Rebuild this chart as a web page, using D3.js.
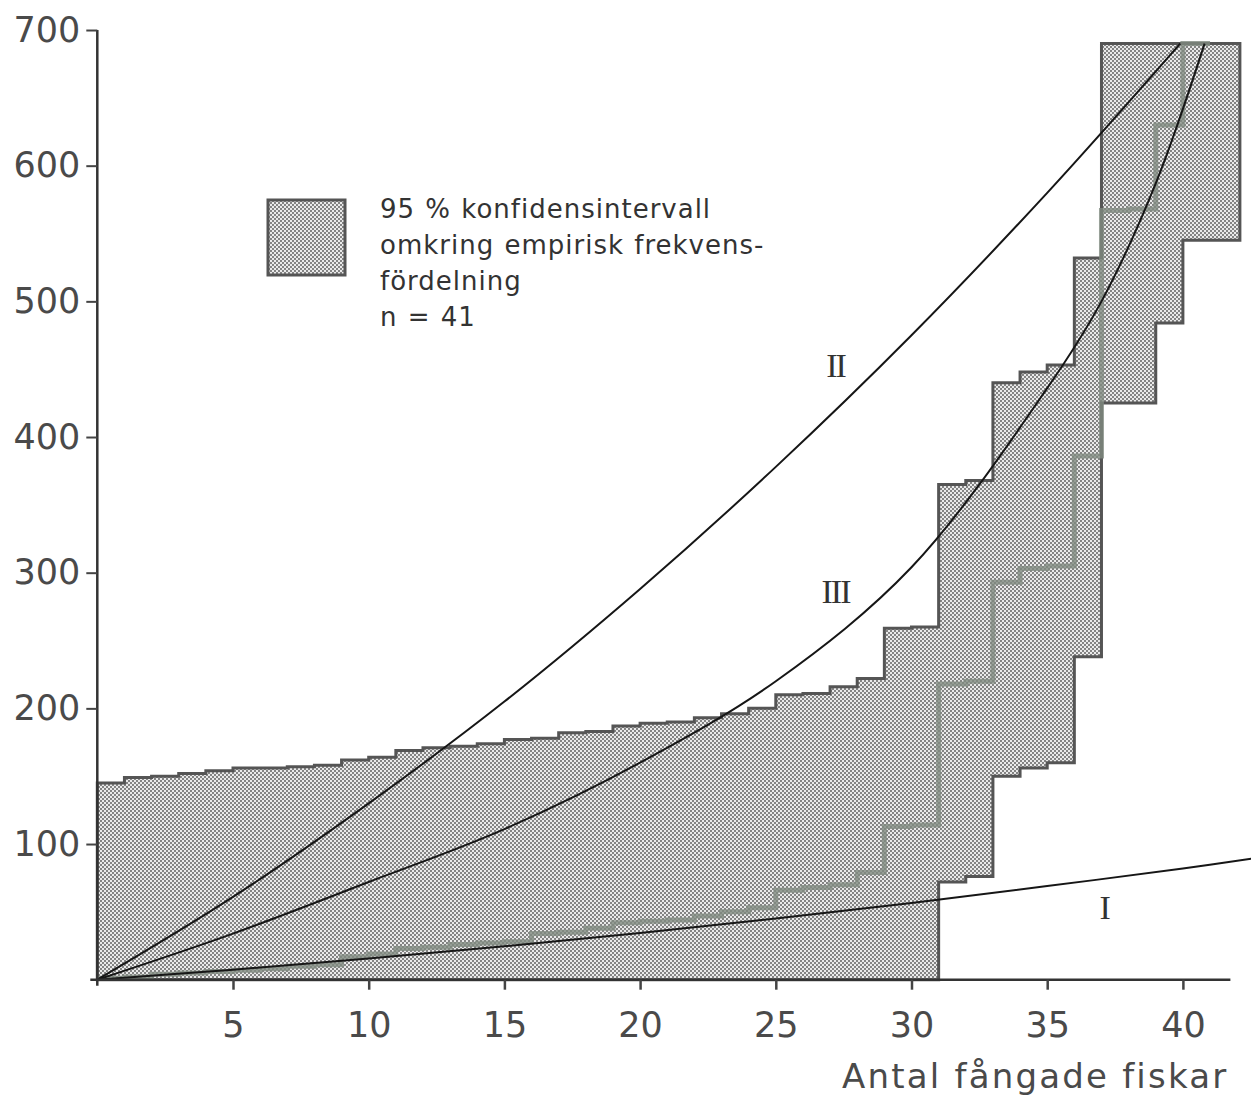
<!DOCTYPE html>
<html>
<head>
<meta charset="utf-8">
<script src="https://cdn.jsdelivr.net/npm/d3@7"></script>
<style>
  body { margin: 0; background: #fff; }
  svg { display: block; }
</style>
</head>
<body>
<div id="chart"></div>
<script>
// steps of the confidence band, one value per interval [k, k+1)
const binStart = [0,1,2,3,4,5,6,7,8,9,10,11,12,13,14,15,16,17,18,19,20,
                  21,22,23,24,25,26,27,28,29,30,31,32,33,34,35,36,37,38,39,40,41];
const upperBound = [145,149,150,152,154,156,156,157,158,162,164,169,171,172,174,177,178,182,183,187,189,
                    190,193,196,200,210,211,216,222,259,260,365,368,440,448,453,532,690,690,690,690,690];
const lowerBound = [0,0,0,0,0,0,0,0,0,0,0,0,0,0,0,0,0,0,0,0,0,
                    0,0,0,0,0,0,0,0,0,0,72,76,150,156,160,238,425,425,484,545,545];
const bandEnd = 42.1;

// empirical frequency distribution (steps)
const empX = [0,1,2,3,4,5,6,7,8,9,10,11,12,13,14,15,16,17,18,19,20,
              21,22,23,24,25,26,27,28,29,30,31,32,33,34,35,36,37,38,39,40,41];
const empY = [1,2,4,5,6,7,8,10,11,17,19,23,24,26,27,28,34,35,38,42,43,
              44,47,50,53,66,68,70,79,113,114,218,220,293,303,305,386,567,568,630,690,690];

// model curves
const curveIx = [0,5,10,15,20,25,30,35,40,42.8];
const curveIy = [0,7.4,15.6,24.6,34.5,45.1,56.6,69,82,90];
const curveIIx = [0,5,10,15,20,25,30,35,39.9];
const curveIIy = [0,61,130,205,288,378,475,580,690];
const curveIIIx = [0,5,10,15,20,25,30,35,37,39,40.8];
const curveIIIy = [0,34,72,111,160,220,304,436,500,587,690];

const xTicks = [5,10,15,20,25,30,35,40];
const yTicks = [100,200,300,400,500,600,700];
const xAxisEnd = 41.75;

const legendLines = ["95 % konfidensintervall", "omkring empirisk frekvens-", "fördelning", "n = 41"];
const xTitle = "Antal fångade fiskar";

const width = 1251, height = 1095;
const x = d3.scaleLinear([0, 42], [97.3, 97.3 + 42 * 27.14]);
const y = d3.scaleLinear([0, 700], [979.7, 979.7 - 700 * 1.3567]);

const svg = d3.select("#chart").append("svg")
    .attr("width", width)
    .attr("height", height)
    .attr("viewBox", [0, 0, width, height]);

// halftone dots
const pat = svg.append("defs").append("pattern")
    .attr("id", "dots")
    .attr("patternUnits", "userSpaceOnUse")
    .attr("width", 4).attr("height", 4);
pat.append("rect").attr("width", 4).attr("height", 4).attr("fill", "#eaeaea");
pat.append("circle").attr("cx", 1).attr("cy", 1).attr("r", 0.88).attr("fill", "#505050");
pat.append("circle").attr("cx", 3).attr("cy", 3).attr("r", 0.88).attr("fill", "#505050");

const band = binStart.map((k, i) => ({x: k, lo: lowerBound[i], hi: upperBound[i]}));
band.push({x: bandEnd, lo: lowerBound[lowerBound.length - 1], hi: upperBound[upperBound.length - 1]});

const area = d3.area()
    .x(d => x(d.x))
    .y0(d => y(d.lo))
    .y1(d => y(d.hi))
    .curve(d3.curveStepAfter);

svg.append("path")
    .attr("d", area(band))
    .attr("fill", "url(#dots)")
    .attr("stroke", "#555")
    .attr("stroke-width", 3)
    .attr("stroke-linejoin", "miter");

// empirical step line
const emp = empX.map((k, i) => [k, empY[i]]);
svg.append("path")
    .attr("d", d3.line().x(d => x(d[0])).y(d => y(d[1])).curve(d3.curveStepAfter)(emp))
    .attr("fill", "none")
    .attr("stroke", "#7f8a80")
    .attr("stroke-opacity", 0.8)
    .attr("stroke-width", 5);

// curves I, II, III
const smooth = d3.line().x(d => x(d[0])).y(d => y(d[1])).curve(d3.curveCatmullRom.alpha(0.5));
[[curveIx, curveIy], [curveIIx, curveIIy], [curveIIIx, curveIIIy]].forEach(([cx, cy]) => {
    svg.append("path")
        .attr("d", smooth(cx.map((v, i) => [v, cy[i]])))
        .attr("fill", "none")
        .attr("stroke", "#161616")
        .attr("stroke-width", 2);
});

// y axis
svg.append("g")
    .attr("transform", `translate(${x(0)},0)`)
    .call(d3.axisLeft(y).tickValues(yTicks).tickSize(11).tickSizeOuter(0).tickPadding(6))
    .call(g => g.select(".domain").attr("stroke", "#333").attr("stroke-width", 2.5)
        .attr("d", `M0,${y(700)}V${y(0) + 6}`))
    .call(g => g.selectAll(".tick line").attr("stroke", "#444").attr("stroke-width", 2))
    .call(g => g.selectAll(".tick text")
        .attr("fill", "#4a4a4a")
        .style("font-family", "DejaVu Sans")
        .style("font-size", "35px"));

// x axis
svg.append("g")
    .attr("transform", `translate(0,${y(0)})`)
    .call(d3.axisBottom(x).tickValues(xTicks).tickSize(10).tickSizeOuter(0).tickPadding(22))
    .call(g => g.select(".domain").attr("stroke", "#333").attr("stroke-width", 2.5)
        .attr("d", `M${x(0) - 7},0H${x(xAxisEnd)}`))
    .call(g => g.selectAll(".tick line").attr("stroke", "#444").attr("stroke-width", 2.5))
    .call(g => g.selectAll(".tick text")
        .attr("fill", "#4a4a4a")
        .style("font-family", "DejaVu Sans")
        .style("font-size", "35px"));

svg.append("text")
    .attr("x", x(xAxisEnd) - 2)
    .attr("y", 1088)
    .attr("text-anchor", "end")
    .attr("fill", "#4a4a4a")
    .style("font-family", "DejaVu Sans")
    .style("font-size", "34px")
    .style("letter-spacing", "2.2px")
    .text(xTitle);

// roman labels
const roman = [["II", 27.2, 453], ["III", 27.2, 286], ["I", 37.1, 53]];
roman.forEach(([t, lx, ly]) => {
    svg.append("text")
        .attr("x", x(lx))
        .attr("y", y(ly))
        .attr("text-anchor", "middle")
        .attr("dominant-baseline", "central")
        .attr("fill", "#333")
        .style("font-family", "Liberation Serif")
        .style("font-size", "34px")
        .style("letter-spacing", "-2px")
        .text(t);
});

// legend
svg.append("rect")
    .attr("x", 268).attr("y", 200)
    .attr("width", 77).attr("height", 75)
    .attr("fill", "url(#dots)")
    .attr("stroke", "#555")
    .attr("stroke-width", 3);

svg.append("g")
    .selectAll("text")
    .data(legendLines)
    .join("text")
    .attr("x", 380)
    .attr("y", (d, i) => 218 + i * 36)
    .attr("fill", "#333")
    .style("font-family", "DejaVu Sans")
    .style("font-size", "26px")
    .style("letter-spacing", "1px")
    .style("word-spacing", "1px")
    .text(d => d);
</script>
</body>
</html>
